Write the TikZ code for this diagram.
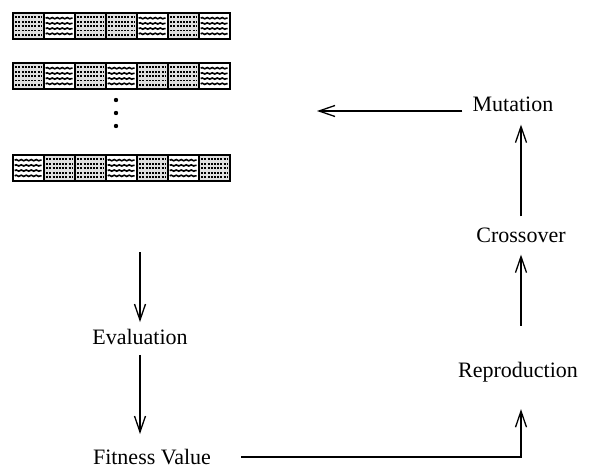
\documentclass[tikz,border=0pt]{standalone}
\usepackage{fontspec}
\setmainfont{Liberation Serif}
\usetikzlibrary{arrows.meta,decorations.pathmorphing}
\begin{document}
\begin{tikzpicture}[x=1pt,y=-1pt,
  lbl/.style={font=\fontsize{22}{25}\selectfont, inner sep=0pt},
  arr/.style={line width=1.3pt, -{Straight Barb[length=16pt,width=11pt,line width=1.3pt]}},
  wave/.style={line width=1.6pt, decorate, decoration={snake,amplitude=0.6pt,segment length=5pt}},
  dotrow/.style={line width=1.8pt, dash pattern=on 2pt off 1.2pt, black},
  barframe/.style={line width=2.2pt}]
\useasboundingbox (0,0) rectangle (589,468);

% chromosome bars: 0 = dotted cell, 1 = wavy cell
\foreach \top/\pat in {13/{0,1,0,0,1,0,1}, 63/{0,1,0,1,0,0,1}, 155/{1,0,0,1,0,1,0}} {
  \foreach \p [count=\i from 0] in \pat {
    \pgfmathsetmacro{\xl}{12.7+31*\i}
    \ifnum\p=0
      \fill[gray!25] (\xl,\top) rectangle ++(31,26);
      \foreach \k in {1,...,5}
        \draw[dotrow] (\xl+2.5,\top+4.4*\k) -- ++(26,0);
    \else
      \foreach \k in {1,...,4}
        \draw[wave] (\xl+2,\top+5.2*\k) -- ++(27,0);
    \fi
    \draw[line width=1.6pt] (\xl,\top) -- ++(0,26);
  }
  \draw[barframe] (12.7,\top) rectangle ++(217,26);
}

% ellipsis dots
\foreach \yy in {100,113,126} \fill (116,\yy) circle (2.2pt);

% labels
\node[lbl] (mut) at (513,104) {Mutation};
\node[lbl] (cross) at (521,235) {Crossover};
\node[lbl] (repr) at (518,372) {Reproduction};
\node[lbl] (eval) at (140,337) {Evaluation};
\node[lbl] (fit) at (152,457) {Fitness Value};

\coordinate (pop) at (317,111);
\coordinate (popbot) at (140,252);

% connectors
\draw[arr] ([xshift=-10pt]mut.west |- pop) -- (pop);
\draw[arr, shorten <=11pt, shorten >=13pt] (cross.north) -- (cross.north |- mut.south);
\draw[arr, shorten <=36pt, shorten >=12pt] (cross.south |- repr.north) -- (cross.south);
\draw[arr, shorten >=27pt] ([xshift=30pt]fit.east) -| (cross.south |- repr.south);
\draw[arr, shorten >=7pt] (popbot) -- (eval.north);
\draw[arr, shorten <=10pt, shorten >=15pt] (eval.south) -- (eval.south |- fit.north);
\end{tikzpicture}
\end{document}
